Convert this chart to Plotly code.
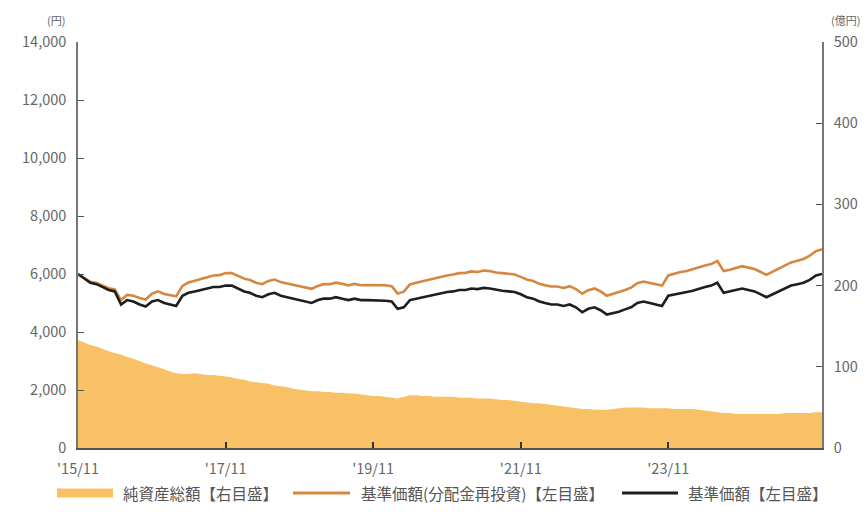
import pandas as pd
import plotly.graph_objects as go

# Monthly points from 2015/11 to 2025/12
dates = pd.date_range("2015-11-01", periods=122, freq="MS")

nav = [6000, 5850, 5700, 5650, 5550, 5450, 5400, 4950, 5100, 5050, 4950, 4880,
       5050, 5100, 5000, 4950, 4900, 5250, 5350, 5400, 5450, 5500, 5550, 5550,
       5600, 5600, 5500, 5400, 5350, 5250, 5200, 5300, 5350, 5250, 5200, 5150,
       5100, 5050, 5000, 5100, 5150, 5150, 5200, 5150, 5100, 5150, 5100, 5100,
       5100, 5100, 5080, 5050, 4800, 4850, 5100, 5150, 5200, 5250, 5300, 5350,
       5380, 5400, 5450, 5450, 5500, 5480, 5520, 5500, 5450, 5420, 5400, 5380,
       5300, 5200, 5150, 5050, 5000, 4950, 4950, 4900, 4950, 4850, 4680, 4800,
       4850, 4750, 4600, 4650, 4700, 4780, 4850, 5000, 5050, 5000, 4950, 4900,
       5250, 5300, 5350, 5380, 5420, 5500, 5550, 5600, 5700, 5350, 5400, 5450,
       5500, 5450, 5400, 5300, 5200, 5300, 5400, 5500, 5600, 5650, 5700, 5800,
       5950, 6000]

nav_reinv = [6000, 5870, 5730, 5690, 5600, 5510, 5470, 5100, 5280, 5250, 5170, 5120,
             5320, 5400, 5310, 5270, 5230, 5590, 5710, 5770, 5830, 5890, 5950, 5960,
             6030, 6030, 5940, 5840, 5790, 5700, 5650, 5760, 5810, 5720, 5670, 5620,
             5580, 5530, 5490, 5590, 5650, 5650, 5700, 5660, 5610, 5660, 5610, 5620,
             5620, 5630, 5610, 5580, 5330, 5390, 5640, 5700, 5750, 5810, 5860, 5920,
             5950, 5980, 6030, 6040, 6090, 6070, 6120, 6100, 6050, 6030, 6000, 5980,
             5900, 5810, 5760, 5660, 5610, 5570, 5570, 5520, 5580, 5480, 5320, 5440,
             5500, 5400, 5250, 5310, 5370, 5450, 5530, 5680, 5740, 5690, 5640, 5600,
             5950, 6010, 6070, 6100, 6150, 6230, 6290, 6340, 6450, 6100, 6150, 6210,
             6270, 6220, 6170, 6070, 5970, 6080, 6180, 6290, 6400, 6460, 6520, 6630,
             6790, 6850]

net_assets = [133, 130, 127, 125, 122, 119, 117, 115, 112, 110, 107, 104,
              102, 100, 97, 94, 92, 91, 91, 92, 91, 90, 90, 89,
              88, 87, 85, 84, 82, 81, 80, 79, 77, 76, 75, 73,
              72, 71, 70, 70, 69, 69, 68, 68, 67, 67, 66, 65,
              64, 64, 63, 62, 61, 63, 65, 65, 64, 64, 63, 63,
              63, 63, 62, 62, 62, 61, 61, 61, 60, 59, 59, 58,
              57, 56, 55, 55, 54, 53, 52, 51, 50, 49, 48, 48,
              47, 47, 47, 48, 49, 50, 50, 50, 50, 49, 49, 49,
              49, 48, 48, 48, 48, 47, 46, 45, 44, 43, 43, 42,
              42, 42, 42, 42, 42, 42, 42, 43, 43, 43, 43, 43,
              44, 44]

tick_dates = ["2015-11-01", "2017-11-01", "2019-11-01", "2021-11-01", "2023-11-01"]
tick_labels = ["'15/11", "'17/11", "'19/11", "'21/11", "'23/11"]

names = ["純資産総額【右目盛】", "基準価額(分配金再投資)【左目盛】", "基準価額【左目盛】"]

AREA = "#F8C165"
ORANGE = "#D5873F"
BLACK = "#1E1E1E"
FONT = "Noto Sans CJK JP"
TXT = "#666666"

W, H = 865, 512
ML, MR, MT, MB = 78, 43, 42, 64
PW, PH = W - ML - MR, H - MT - MB


def px_x(px):
    return (px - ML) / PW


def px_y(py):
    return (H - MB - py) / PH


fig = go.Figure()
fig.add_trace(go.Scatter(x=dates, y=net_assets, yaxis="y2", mode="lines",
                         line=dict(width=0, color=AREA), fill="tozeroy",
                         fillcolor=AREA, name=names[0], hoverinfo="skip"))
fig.add_trace(go.Scatter(x=dates, y=nav_reinv, mode="lines", name=names[1],
                         line=dict(color=ORANGE, width=2.6)))
fig.add_trace(go.Scatter(x=dates, y=nav, mode="lines", name=names[2],
                         line=dict(color=BLACK, width=2.6)))

# legend drawn as swatches + text (swatches are longer than plotly's legend allows)
legend_items = [
    (names[0], AREA, 9, 57, 113, 121),
    (names[1], ORANGE, 3, 293, 350, 359),
    (names[2], BLACK, 3, 622, 678, 686),
]
shapes, annotations = [], []
ly = px_y(493)
for text, color, lw, x0, x1, tx in legend_items:
    shapes.append(dict(type="line", xref="paper", yref="paper",
                       x0=px_x(x0), x1=px_x(x1), y0=ly, y1=ly,
                       line=dict(color=color, width=lw)))
    annotations.append(dict(text=text, xref="paper", yref="paper",
                            x=px_x(tx), y=ly, xanchor="left", yanchor="middle",
                            showarrow=False,
                            font=dict(family=FONT, size=15.5, color="#555")))

annotations += [
    dict(text="(円)", xref="paper", yref="paper", x=px_x(56), y=px_y(20),
         xanchor="center", yanchor="middle", showarrow=False,
         font=dict(family=FONT, size=11, color=TXT)),
    dict(text="(億円)", xref="paper", yref="paper", x=px_x(845), y=px_y(20),
         xanchor="center", yanchor="middle", showarrow=False,
         font=dict(family=FONT, size=11, color=TXT)),
]

axis_font = dict(family=FONT, size=14.5, color=TXT)
fig.update_layout(
    width=W, height=H,
    margin=dict(l=ML, r=MR, t=MT, b=MB, autoexpand=False),
    paper_bgcolor="white", plot_bgcolor="white",
    font=dict(family=FONT, color="#555"),
    showlegend=False,
    xaxis=dict(type="date", range=[dates[0], dates[-1]],
               tickvals=tick_dates, ticktext=tick_labels,
               ticks="inside", ticklen=6, tickcolor="#333", tickwidth=1.5,
               showline=True, linecolor="#555", linewidth=1.5,
               ticklabelstandoff=7, automargin=False,
               showgrid=False, zeroline=False, tickfont=axis_font),
    yaxis=dict(range=[0, 14000], dtick=2000, tickformat=",",
               ticks="inside", ticklen=6, tickcolor="#555",
               showline=True, linecolor="#777", linewidth=1.5,
               ticklabelstandoff=7, automargin=False,
               showgrid=False, zeroline=False, tickfont=axis_font),
    yaxis2=dict(range=[0, 500], dtick=100, overlaying="y", side="right",
                ticks="inside", ticklen=6, tickcolor="#555",
                showline=True, linecolor="#777", linewidth=1.5,
                ticklabelstandoff=7, automargin=False,
                showgrid=False, zeroline=False, tickfont=axis_font),
    shapes=shapes,
    annotations=annotations,
)

fig.write_html("out.html", config={"displayModeBar": False},
               post_script="document.body.style.margin='0';")
